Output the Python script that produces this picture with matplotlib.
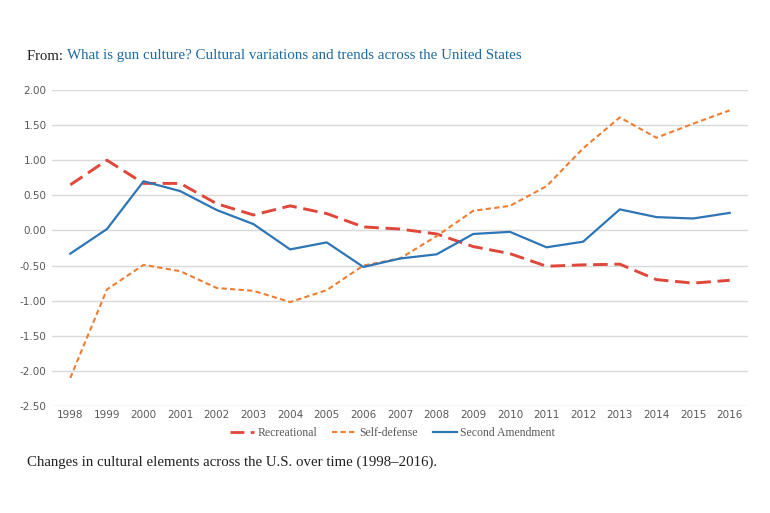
import matplotlib
matplotlib.use("Agg")
import matplotlib.pyplot as plt
from matplotlib.lines import Line2D

years = [str(y) for y in range(1998, 2017)]
recreational = [0.65, 1.00, 0.67, 0.67, 0.38, 0.22, 0.35, 0.24, 0.05, 0.02,
                -0.05, -0.23, -0.33, -0.51, -0.49, -0.48, -0.70, -0.75, -0.71]
self_defense = [-2.10, -0.84, -0.49, -0.58, -0.82, -0.86, -1.02, -0.85, -0.50, -0.40,
                -0.08, 0.28, 0.35, 0.63, 1.17, 1.61, 1.32, 1.52, 1.71]
second_amend = [-0.33, 0.02, 0.70, 0.56, 0.29, 0.09, -0.27, -0.17, -0.52, -0.40,
                -0.34, -0.05, -0.02, -0.24, -0.16, 0.30, 0.19, 0.17, 0.25]
yticks = [2.0, 1.5, 1.0, 0.5, 0.0, -0.5, -1.0, -1.5, -2.0, -2.5]
series_names = ["Recreational", "Self-defense", "Second Amendment"]

RED = "#E0463A"
ORANGE = "#ED7D31"
BLUE = "#2E75B6"
GRAY = "#595959"

fig = plt.figure(figsize=(7.7, 5.13), dpi=100)
ax = fig.add_axes([52/770, 1-406/513, (748-52)/770, (406-90)/513])

x = list(range(len(years)))
ax.plot(x, recreational, color=RED, lw=2.1, dashes=(5, 2.3), zorder=3)
ax.plot(x, self_defense, color=ORANGE, lw=1.5, dashes=(2.5, 1.6), zorder=3)
ax.plot(x, second_amend, color=BLUE, lw=1.6, zorder=4)

ax.set_xlim(-0.5, len(years) - 0.5)
ax.set_ylim(-2.5, 2.0)
ax.set_yticks(yticks)
ax.set_yticklabels([f"{v:.2f}" for v in yticks])
ax.set_xticks(x)
ax.set_xticklabels(years)
ax.grid(axis="y", color="#D9D9D9", lw=1.0)
ax.set_axisbelow(True)
for s in ax.spines.values():
    s.set_visible(False)
ax.tick_params(length=0, labelsize=7.5, labelcolor=GRAY)
ax.tick_params(axis="x", pad=3)
ax.tick_params(axis="y", pad=4)

handles = [
    Line2D([], [], color=RED, lw=2.0, dashes=(5, 2.3)),
    Line2D([], [], color=ORANGE, lw=1.5, dashes=(2.5, 1.6)),
    Line2D([], [], color=BLUE, lw=1.6),
]
leg = fig.legend(handles, series_names, loc="center", bbox_to_anchor=(0.51, 1-433/513),
                 ncol=3, frameon=False, handlelength=2.0, handletextpad=0.3,
                 columnspacing=1.3, prop={"family": "Liberation Serif", "size": 8.5})
for t in leg.get_texts():
    t.set_color(GRAY)

serif = "Liberation Serif"
t1 = fig.text(27/770, 1-56/513, "From: ", fontsize=10.6, family=serif, color="#222222", va="center")
fig.canvas.draw()
r = fig.canvas.get_renderer()
bb = t1.get_window_extent(r)
fig.text(bb.x1/fig.bbox.width, 1-56/513,
         "What is gun culture? Cultural variations and trends across the United States",
         fontsize=10.85, family=serif, color="#1F6AA0", va="center")
fig.text(27/770, 1-462/513, "Changes in cultural elements across the U.S. over time (1998\u20132016).",
         fontsize=10.7, family=serif, color="#222222", va="center")

fig.savefig("out.png", dpi=100)
